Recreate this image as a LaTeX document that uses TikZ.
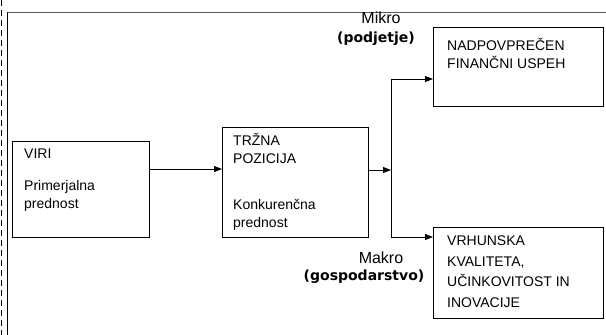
\documentclass[tikz,border=0pt]{standalone}
\usepackage{fontspec}
\setmainfont{Liberation Sans}
\newfontfamily\labfont{DejaVu Sans}
\usetikzlibrary{arrows.meta}
\begin{document}
\begin{tikzpicture}[x=1pt,y=-1pt,
  box/.style={draw, line width=0.9pt, inner sep=0pt, anchor=north west},
  txt/.style={anchor=base west, inner sep=0pt, font=\fontsize{14}{16}\selectfont},
  lab/.style={anchor=base, inner sep=0pt, font=\fontsize{16}{18}\selectfont},
  blab/.style={anchor=base, inner sep=0pt, font=\labfont\bfseries\fontsize{14}{16}\selectfont},
  arr/.style={line width=0.9pt, -{Triangle[length=8pt,width=6pt]}},
  conn/.style={line width=0.9pt},
  frame/.style={line width=0.8pt}]
\useasboundingbox (0,0) rectangle (606,335);
% frame
\coordinate (f0) at (7,12);
\coordinate (f1) at (606,12);
\coordinate (f2) at (7,335);
\coordinate (d0) at (1.5,0);
\coordinate (d1) at (1.5,335);
\draw[frame, black!65] (f0) -- (f1);
\draw[frame] (f0) -- (f2);
\draw[line width=0.6pt, dash pattern=on 6pt off 4pt] (d0) -- (d1);
% boxes
\node[box, minimum width=137pt, minimum height=96pt] (viri) at (12,141) {};
\node[box, minimum width=146pt, minimum height=110pt] (trz) at (222,127) {};
\node[box, minimum width=170pt, minimum height=79pt] (nad) at (433,27) {};
\node[box, minimum width=170pt, minimum height=91pt] (vrh) at (433,227) {};
% box texts
\node[txt] (t1) at (24,158) {VIRI};
\node[txt] (t2) at (24,190) {Primerjalna};
\node[txt] (t3) at (24,208) {prednost};
\node[txt] (t4) at (233,145) {TRŽNA};
\node[txt] (t5) at (233,163) {POZICIJA};
\node[txt] (t6) at (233,209) {Konkurenčna};
\node[txt] (t7) at (233,227) {prednost};
\node[txt] (t8) at (447,50) {NADPOVPREČEN};
\node[txt] (t9) at (447,68) {FINANČNI USPEH};
\node[txt] (t10) at (447,245) {VRHUNSKA};
\node[txt] (t11) at (447,266) {KVALITETA,};
\node[txt] (t12) at (447,286) {UČINKOVITOST IN};
\node[txt] (t13) at (447,307) {INOVACIJE};
% labels
\node[lab] (mik) at (381,23) {Mikro};
\node[blab] (pod) at (376,42) {(podjetje)};
\node[lab] (mak) at (381,263) {Makro};
\node[blab] (gos) at (364,280) {(gospodarstvo)};
% connectors
\coordinate (r1) at (0,169);
\coordinate (r2) at (0,170);
\coordinate (jt) at (391,79);
\coordinate (jb) at (391,237);
\coordinate (jm) at (391,170);
\draw[arr] (viri.east |- r1) -- (trz.west |- r1);
\draw[arr] (trz.east |- r2) -- (jm);
\draw[conn] (jt) -- (jb);
\draw[arr] (jt) -- (nad.west |- jt);
\draw[arr] (jb) -- (vrh.west |- jb);
\end{tikzpicture}
\end{document}
